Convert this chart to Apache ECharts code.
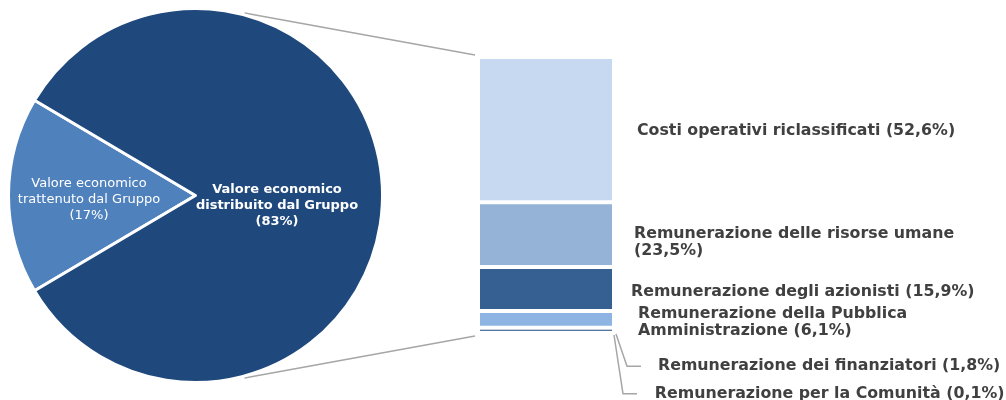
<!DOCTYPE html>
<html>
<head>
<meta charset="utf-8">
<script src="https://cdn.jsdelivr.net/npm/echarts@6/dist/echarts.min.js"></script>
<style>
html,body{margin:0;padding:0;background:#fff;}
#c{width:1006px;height:400px;}
</style>
</head>
<body>
<div id="c"></div>
<script>
// ---- data ----
const pieNames = ['Valore economico\ntrattenuto dal Gruppo', 'Valore economico\ndistribuito dal Gruppo'];
const pieValues = [17, 83];
const pieColors = ['#4F81BD', '#1F497D'];

const barNames = [
  'Costi operativi riclassificati',
  'Remunerazione delle risorse umane',
  'Remunerazione degli azionisti',
  'Remunerazione della Pubblica\nAmministrazione',
  'Remunerazione dei finanziatori',
  'Remunerazione per la Comunità'
];
const barValues = [52.6, 23.5, 15.9, 6.1, 1.8, 0.1];
const barSep = [' ', '\n', ' ', ' ', ' ', ' '];
const barColors = ['#C6D9F1', '#95B3D7', '#376092', '#8DB4E2', '#1F497D', '#4F81BD'];
const barLabelOffsets = [[23, 1], [20, 8], [17, 3], [24, 3], [44, 36], [40, 61]];

const FONT = 'DejaVu Sans';
const chart = echarts.init(document.getElementById('c'), null, {renderer: 'canvas'});

const pieCenter = [195.5, 195.5];
const pieRadius = 187;

function fmt(v) { return v.toFixed(1).replace('.', ','); }

const barSeries = barValues.map((v, i) => ({
  type: 'bar',
  name: barNames[i],
  stack: 'total',
  barWidth: '100%',
  data: [v],
  itemStyle: {color: barColors[i], borderColor: '#fff', borderWidth: 2},
  label: {
    show: true,
    position: 'right',
    distance: 0,
    offset: barLabelOffsets[i],
    formatter: () => barNames[i] + barSep[i] + '(' + fmt(v) + '%)',
    fontFamily: FONT,
    fontWeight: 'bold',
    fontSize: 15.8,
    lineHeight: 17.5,
    color: '#404040'
  },
  silent: true,
  animation: false
}));

const option = {
  backgroundColor: '#fff',
  animation: false,
  grid: {left: 478, width: 136, top: 57, bottom: 67, containLabel: false},
  xAxis: {type: 'category', data: ['x'], show: false},
  yAxis: {type: 'value', min: 0, max: 100, inverse: true, show: false},
  series: [
    {
      type: 'pie',
      center: pieCenter,
      radius: pieRadius,
      startAngle: 180 + pieValues[0] * 3.6 / 2,
      clockwise: true,
      silent: true,
      animation: false,
      itemStyle: {borderColor: '#fff', borderWidth: 3},
      data: pieValues.map((v, i) => ({
        value: v,
        name: pieNames[i],
        itemStyle: {color: pieColors[i]},
        label: i === 0 ?
          {fontWeight: 'normal', fontSize: 13} :
          {fontWeight: 'bold', fontSize: 13}
      })),
      label: {
        show: true,
        position: 'inside',
        formatter: p => p.name + '\n(' + p.value + '%)',
        color: '#fff',
        fontFamily: FONT,
        lineHeight: 16,
        align: 'center'
      },
      labelLine: {show: false}
    },
    ...barSeries
  ]
};
chart.setOption(option);

// connectors & leader lines computed from scales
const cx = chart.convertToPixel({xAxisIndex: 0}, 'x');
const yTop = chart.convertToPixel({yAxisIndex: 0}, 0);
const yBot = chart.convertToPixel({yAxisIndex: 0}, 100);
const halfW = 136 / 2;
const barL = cx - halfW, barR = cx + halfW;
const ang = 75 * Math.PI / 180;
const rr = pieRadius + 2;
const lineStyle = {stroke: '#A6A6A6', lineWidth: 1.5, fill: null};

let cum = 0;
const segCenters = barValues.map(v => { const c = cum + v / 2; cum += v; return chart.convertToPixel({yAxisIndex: 0}, c); });
const yF = segCenters[4] + barLabelOffsets[4][1];
const yC = segCenters[5] + barLabelOffsets[5][1];

chart.setOption({
  series: [{labelLayout: p => p.dataIndex === 0 ? {dx: -10, dy: 4} : {dx: -15, dy: 10}}],
  graphic: [
    {type: 'line', silent: true, shape: {x1: pieCenter[0] + rr * Math.cos(ang), y1: pieCenter[1] - rr * Math.sin(ang), x2: barL - 3, y2: yTop - 2}, style: lineStyle},
    {type: 'line', silent: true, shape: {x1: pieCenter[0] + rr * Math.cos(ang), y1: pieCenter[1] + rr * Math.sin(ang), x2: barL - 3, y2: yBot + 3}, style: lineStyle},
    {type: 'polyline', silent: true, shape: {points: [[barR + 2, yBot + 1], [barR + 13, yF], [barR + 27, yF]]}, style: lineStyle},
    {type: 'polyline', silent: true, shape: {points: [[barR, yBot + 2], [barR + 9, yC], [barR + 23, yC]]}, style: lineStyle}
  ]
});
</script>
</body>
</html>
